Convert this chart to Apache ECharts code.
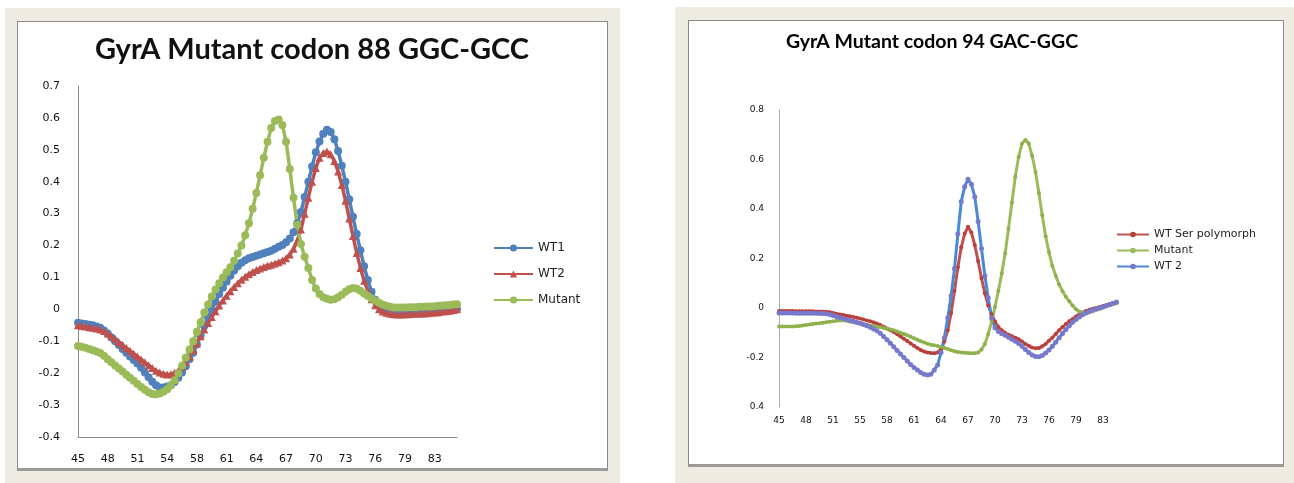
<!DOCTYPE html>
<html><head><meta charset="utf-8">
<script src="https://cdn.jsdelivr.net/npm/echarts@6/dist/echarts.min.js"></script>
<style>
html,body{margin:0;padding:0;background:#fff;}
#wrap{position:relative;width:1294px;height:483px;overflow:hidden;}
.beige{position:absolute;background:#EEEBE1;}
.panel{position:absolute;background:#fff;border:1px solid #8a8a8a;box-sizing:border-box;}
#chart{position:absolute;left:0;top:0;width:1294px;height:483px;}
</style></head><body>
<div id="wrap">
<div class="beige" style="left:5px;top:8px;width:615px;height:475px"></div>
<div class="panel" style="left:17px;top:21px;width:591px;height:450px;border-bottom:3px solid #9a9a9a"></div>
<div class="beige" style="left:675px;top:7px;width:619px;height:476px"></div>
<div class="panel" style="left:688px;top:20px;width:596px;height:447px;border-bottom:3px solid #9a9a9a"></div>
<div id="chart"></div>
</div>
<script>
// ---- Left chart: GyrA Mutant codon 88 GGC-GCC ----
const leftTitle = 'GyrA Mutant codon 88 GGC-GCC';
const leftTickLabels = ['45','48','51','54','58','61','64','67','70','73','76','79','83'];
const leftWT1 = [
-0.042,-0.044,-0.046,-0.048,-0.05,-0.054,-0.058,-0.066,
-0.076,-0.088,-0.1,-0.112,-0.124,-0.136,-0.148,-0.159,
-0.17,-0.183,-0.198,-0.213,-0.227,-0.238,-0.245,-0.245,
-0.242,-0.238,-0.228,-0.214,-0.198,-0.178,-0.156,-0.136,
-0.11,-0.082,-0.052,-0.025,0.0,0.024,0.048,0.068,
0.087,0.105,0.122,0.135,0.146,0.154,0.16,0.164,
0.168,0.172,0.176,0.18,0.184,0.19,0.196,0.202,
0.21,0.222,0.242,0.27,0.305,0.352,0.4,0.448,
0.492,0.526,0.55,0.563,0.556,0.533,0.496,0.45,
0.4,0.345,0.29,0.236,0.185,0.135,0.092,0.055,
0.03,0.013,0.003,-0.003,-0.007,-0.01,-0.011,-0.011,
-0.011,-0.01,-0.01,-0.01,-0.009,-0.009,-0.008,-0.008,
-0.007,-0.006,-0.005,-0.004,-0.003,-0.002,0.0];
const leftWT2 = [
-0.05,-0.052,-0.054,-0.056,-0.058,-0.06,-0.063,-0.068,
-0.076,-0.084,-0.093,-0.102,-0.111,-0.121,-0.13,-0.139,
-0.148,-0.157,-0.166,-0.175,-0.184,-0.192,-0.198,-0.202,
-0.204,-0.203,-0.199,-0.192,-0.18,-0.165,-0.148,-0.128,
-0.106,-0.084,-0.063,-0.043,-0.024,-0.006,0.012,0.028,
0.043,0.057,0.07,0.082,0.093,0.102,0.11,0.117,
0.123,0.128,0.133,0.137,0.14,0.144,0.148,0.153,
0.16,0.172,0.19,0.215,0.25,0.3,0.35,0.4,
0.443,0.475,0.49,0.495,0.486,0.465,0.432,0.39,
0.34,0.285,0.23,0.177,0.13,0.09,0.058,0.032,
0.013,0.0,-0.007,-0.011,-0.014,-0.015,-0.016,-0.016,
-0.015,-0.015,-0.014,-0.014,-0.013,-0.013,-0.012,-0.011,
-0.01,-0.009,-0.007,-0.006,-0.004,-0.002,0.0];
const leftMutant = [
-0.115,-0.117,-0.12,-0.124,-0.128,-0.132,-0.137,-0.145,
-0.156,-0.166,-0.176,-0.185,-0.195,-0.205,-0.214,-0.224,
-0.234,-0.243,-0.252,-0.26,-0.265,-0.266,-0.264,-0.258,
-0.25,-0.238,-0.222,-0.2,-0.177,-0.152,-0.126,-0.1,
-0.07,-0.04,-0.01,0.015,0.04,0.062,0.082,0.1,
0.116,0.132,0.152,0.175,0.2,0.232,0.27,0.315,
0.365,0.42,0.475,0.525,0.568,0.59,0.595,0.578,
0.525,0.44,0.35,0.265,0.205,0.165,0.13,0.092,
0.065,0.048,0.038,0.033,0.03,0.032,0.038,0.046,
0.055,0.063,0.067,0.065,0.058,0.05,0.042,0.034,
0.027,0.021,0.015,0.011,0.008,0.006,0.006,0.006,
0.006,0.007,0.007,0.007,0.008,0.008,0.009,0.009,
0.01,0.011,0.012,0.013,0.014,0.015,0.016];

// ---- Right chart: GyrA Mutant codon 94 GAC-GGC ----
const rightTitle = 'GyrA Mutant codon 94 GAC-GGC';
const rightTickLabels = ['45','48','51','55','58','61','64','67','70','73','76','79','83'];
const rightWTSer = [
-0.012,-0.012,-0.012,-0.012,-0.012,-0.013,-0.013,-0.013,
-0.013,-0.013,-0.013,-0.014,-0.014,-0.014,-0.015,-0.017,
-0.02,-0.023,-0.026,-0.028,-0.031,-0.033,-0.036,-0.039,
-0.042,-0.046,-0.05,-0.054,-0.058,-0.063,-0.069,-0.076,
-0.083,-0.09,-0.097,-0.106,-0.115,-0.124,-0.133,-0.143,
-0.153,-0.162,-0.17,-0.176,-0.18,-0.182,-0.183,-0.18,
-0.165,-0.135,-0.09,-0.02,0.07,0.165,0.245,0.3,
0.328,0.305,0.255,0.19,0.12,0.06,0.01,-0.025,
-0.055,-0.077,-0.09,-0.1,-0.108,-0.114,-0.12,-0.126,
-0.135,-0.145,-0.153,-0.16,-0.163,-0.162,-0.155,-0.145,
-0.132,-0.12,-0.105,-0.09,-0.077,-0.065,-0.054,-0.044,
-0.034,-0.025,-0.018,-0.012,-0.007,-0.003,0.001,0.004,
0.008,0.012,0.016,0.02,0.024];
const rightMutant = [
-0.075,-0.075,-0.075,-0.075,-0.075,-0.074,-0.073,-0.071,
-0.069,-0.067,-0.065,-0.063,-0.062,-0.06,-0.058,-0.056,
-0.054,-0.052,-0.05,-0.05,-0.052,-0.055,-0.058,-0.061,
-0.063,-0.066,-0.068,-0.071,-0.073,-0.075,-0.078,-0.081,
-0.084,-0.087,-0.09,-0.095,-0.1,-0.105,-0.11,-0.116,
-0.122,-0.128,-0.134,-0.139,-0.144,-0.148,-0.151,-0.154,
-0.157,-0.161,-0.166,-0.171,-0.175,-0.178,-0.18,-0.181,
-0.182,-0.183,-0.183,-0.18,-0.168,-0.145,-0.105,-0.055,
0.005,0.07,0.14,0.22,0.32,0.425,0.53,0.61,
0.665,0.679,0.665,0.615,0.55,0.465,0.375,0.29,
0.225,0.17,0.13,0.095,0.068,0.045,0.027,0.01,
-0.005,-0.015,-0.02,-0.021,-0.018,-0.013,-0.008,-0.003,
0.002,0.007,0.011,0.015,0.019];
const rightWT2 = [
-0.02,-0.02,-0.02,-0.02,-0.02,-0.021,-0.021,-0.021,
-0.021,-0.021,-0.021,-0.021,-0.022,-0.022,-0.023,-0.026,
-0.03,-0.034,-0.038,-0.042,-0.046,-0.05,-0.054,-0.058,
-0.062,-0.067,-0.072,-0.078,-0.085,-0.092,-0.102,-0.115,
-0.128,-0.142,-0.157,-0.172,-0.186,-0.2,-0.214,-0.228,
-0.24,-0.251,-0.261,-0.268,-0.271,-0.268,-0.25,-0.23,
-0.18,-0.12,-0.04,0.05,0.16,0.3,0.43,0.49,
0.52,0.5,0.45,0.35,0.24,0.13,0.04,-0.04,
-0.08,-0.095,-0.104,-0.11,-0.118,-0.126,-0.134,-0.143,
-0.155,-0.168,-0.18,-0.19,-0.196,-0.197,-0.192,-0.182,
-0.17,-0.155,-0.138,-0.12,-0.103,-0.087,-0.072,-0.058,
-0.046,-0.036,-0.027,-0.02,-0.013,-0.008,-0.003,0.0,
0.004,0.009,0.014,0.019,0.024];

const leftCategories = leftWT1.map((_, i) => String(i));
const rightCategories = rightWT2.map((_, i) => String(i));
const PER_TICK = 8;

const FONT = 'DejaVu Sans';
const fmt = v => { const r = Math.round(v * 10) / 10; return r === 0 ? '0' : String(r); };

const chart = echarts.init(document.getElementById('chart'), null, {renderer: 'canvas'});
chart.setOption({
  animation: false,
  backgroundColor: 'transparent',
  graphic: [
    {type: 'text', x: 312, y: 50, style: {text: leftTitle, font: 'bold 29px Lato', fill: '#111', textAlign: 'center', textVerticalAlign: 'middle'}},
    {type: 'text', x: 932, y: 42, style: {text: rightTitle, font: 'bold 19.5px Lato', fill: '#000', textAlign: 'center', textVerticalAlign: 'middle'}}
  ],
  grid: [
    {left: 78, top: 86, width: 379, height: 351},
    {left: 779, top: 110, width: 337.5, height: 297}
  ],
  legend: [
    {orient: 'vertical', left: 488, top: 237, itemWidth: 39, itemHeight: 9, itemGap: 14,
     data: ['WT1', 'WT2', 'Mutant'], textStyle: {fontFamily: FONT, fontSize: 12, color: '#222'}},
    {orient: 'vertical', left: 1111, top: 224, itemWidth: 32, itemHeight: 7, itemGap: 5,
     data: ['WT Ser polymorph', 'Mutant', 'WT 2'], textStyle: {fontFamily: FONT, fontSize: 11, color: '#222'}}
  ],
  xAxis: [
    {type: 'category', gridIndex: 0, data: leftCategories, boundaryGap: false,
     axisLine: {show: true, onZero: false, lineStyle: {color: '#8a8a8a'}}, axisTick: {show: false},
     axisLabel: {interval: PER_TICK - 1, margin: 17, fontFamily: FONT, fontSize: 11, color: '#111',
       formatter: (v, i) => leftTickLabels[i / PER_TICK] || ''}},
    {type: 'category', gridIndex: 1, data: rightCategories, boundaryGap: false,
     axisLine: {show: false}, axisTick: {show: false},
     axisLabel: {interval: PER_TICK - 1, margin: 9, fontFamily: FONT, fontSize: 9, color: '#111',
       formatter: (v, i) => rightTickLabels[i / PER_TICK] || ''}}
  ],
  yAxis: [
    {type: 'value', gridIndex: 0, min: -0.4, max: 0.7, interval: 0.1,
     axisLine: {show: true, lineStyle: {color: '#8a8a8a'}}, axisTick: {show: false}, splitLine: {show: false},
     axisLabel: {margin: 18, fontFamily: FONT, fontSize: 11, color: '#111', formatter: fmt}},
    {type: 'value', gridIndex: 1, min: -0.4, max: 0.8, interval: 0.2,
     axisLine: {show: true, lineStyle: {color: '#aaaaaa'}}, axisTick: {show: false}, splitLine: {show: false},
     axisLabel: {margin: 15, fontFamily: FONT, fontSize: 9, color: '#111',
       formatter: v => (Math.abs(v + 0.4) < 1e-9 ? '0.4' : fmt(v))}}
  ],
  series: [
    {name: 'WT1', type: 'line', xAxisIndex: 0, yAxisIndex: 0, data: leftWT1,
     symbol: 'circle', symbolSize: 8, showAllSymbol: true,
     lineStyle: {color: '#4F81BD', width: 3.5}, itemStyle: {color: '#4F81BD'}},
    {name: 'WT2', type: 'line', xAxisIndex: 0, yAxisIndex: 0, data: leftWT2,
     symbol: 'triangle', symbolSize: 8, showAllSymbol: true,
     lineStyle: {color: '#C0504D', width: 3.5}, itemStyle: {color: '#C0504D'}},
    {name: 'Mutant', type: 'line', xAxisIndex: 0, yAxisIndex: 0, data: leftMutant,
     symbol: 'circle', symbolSize: 8, showAllSymbol: true,
     lineStyle: {color: '#9BBB59', width: 3.5}, itemStyle: {color: '#9BBB59'}},
    {name: 'WT Ser polymorph', type: 'line', xAxisIndex: 1, yAxisIndex: 1, data: rightWTSer,
     symbol: 'circle', symbolSize: 4, showAllSymbol: true,
     lineStyle: {color: '#C0504D', width: 3}, itemStyle: {color: '#B8403D'}},
    {name: 'Mutant', type: 'line', xAxisIndex: 1, yAxisIndex: 1, data: rightMutant,
     symbol: 'circle', symbolSize: 4, showAllSymbol: true,
     lineStyle: {color: '#9BBB59', width: 3}, itemStyle: {color: '#8FB04C'}},
    {name: 'WT 2', type: 'line', xAxisIndex: 1, yAxisIndex: 1, data: rightWT2,
     symbol: 'circle', symbolSize: 5, showAllSymbol: true,
     lineStyle: {color: '#4A88D8', width: 3}, itemStyle: {color: '#7878CC'}}
  ]
});
</script>
</body></html>
